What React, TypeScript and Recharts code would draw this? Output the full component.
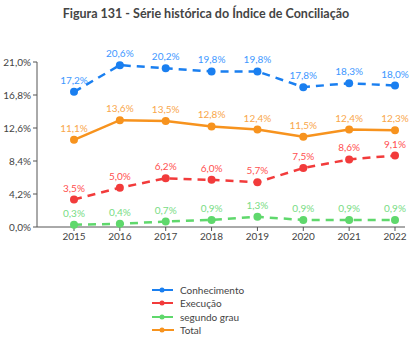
import React from 'react';
import { LineChart, Line, XAxis, YAxis, LabelList } from 'recharts';

const years = ['2015', '2016', '2017', '2018', '2019', '2020', '2021', '2022'];
const conhecimento = [17.2, 20.6, 20.2, 19.8, 19.8, 17.8, 18.3, 18.0];
const execucao = [3.5, 5.0, 6.2, 6.0, 5.7, 7.5, 8.6, 9.1];
const segundoGrau = [0.3, 0.4, 0.7, 0.9, 1.3, 0.9, 0.9, 0.9];
const total = [11.1, 13.6, 13.5, 12.8, 12.4, 11.5, 12.4, 12.3];
const yTicks = [0, 4.2, 8.4, 12.6, 16.8, 21];

const data = years.map((y, i) => ({
  year: y,
  c: conhecimento[i],
  e: execucao[i],
  s: segundoGrau[i],
  t: total[i],
}));

const series = [
  { key: 'c', name: 'Conhecimento', color: '#1a7ff0', label: '#3d97ff', dash: '8 6' },
  { key: 'e', name: 'Execução', color: '#f23b3b', label: '#ff4f4f', dash: '8 6' },
  { key: 's', name: 'segundo grau', color: '#5fd86c', label: '#78dc84', dash: '8 6' },
  { key: 't', name: 'Total', color: '#f7931e', label: '#f9a64a', dash: undefined as string | undefined },
];

const fmt = (v: any) => Number(v).toFixed(1).replace('.', ',') + '%';
const FONT = 'Lato, "DejaVu Sans", sans-serif';

export default function App() {
  return (
    <div style={{ position: 'absolute', left: 0, top: 0, width: 412, height: 359, background: '#fff', fontFamily: FONT }}>
      <div style={{ position: 'absolute', top: 6, left: 0, width: 412, textAlign: 'center', fontWeight: 700, fontSize: 12.5, color: '#444' }}>
        Figura 131 - Série histórica do Índice de Conciliação
      </div>
      <LineChart width={412} height={359} data={data} margin={{ top: 62, right: 7, bottom: 102, left: 0 }}>
        <XAxis
          dataKey="year"
          padding={{ left: 37, right: 10 }}
          tick={{ fontSize: 10, fill: '#444', fontFamily: FONT }}
          tickLine={{ stroke: '#555' }}
          axisLine={{ stroke: '#555' }}
          tickSize={4}
          interval={0}
        />
        <YAxis
          width={37}
          domain={[0, 21]}
          ticks={yTicks}
          tickFormatter={fmt}
          tick={{ fontSize: 10, fill: '#444', fontFamily: FONT }}
          tickLine={{ stroke: '#555' }}
          axisLine={{ stroke: '#555' }}
          tickSize={4}
          interval={0}
        />
        {series.map((s) => (
          <Line
            key={s.key}
            dataKey={s.key}
            name={s.name}
            stroke={s.color}
            strokeWidth={2.5}
            strokeDasharray={s.dash}
            dot={{ r: 4, fill: s.color, stroke: s.color, strokeWidth: 0 }}
            isAnimationActive={false}
            type="linear"
          >
            <LabelList dataKey={s.key} position="top" offset={8} formatter={fmt} style={{ fontSize: 10, fill: s.label, fontFamily: FONT }} />
          </Line>
        ))}
      </LineChart>
      <div style={{ position: 'absolute', left: 152, top: 283 }}>
        {series.map((s) => (
          <div key={s.key} style={{ display: 'flex', alignItems: 'center', height: 13.5, fontSize: 10, color: '#444' }}>
            <svg width={24} height={8} style={{ marginRight: 4 }}>
              <line x1={0} y1={4} x2={22} y2={4} stroke={s.color} strokeWidth={2} strokeDasharray={s.dash ? '9 3' : undefined} />
              <circle cx={10} cy={4} r={2.5} fill={s.color} />
            </svg>
            <span>{s.name}</span>
          </div>
        ))}
      </div>
    </div>
  );
}
